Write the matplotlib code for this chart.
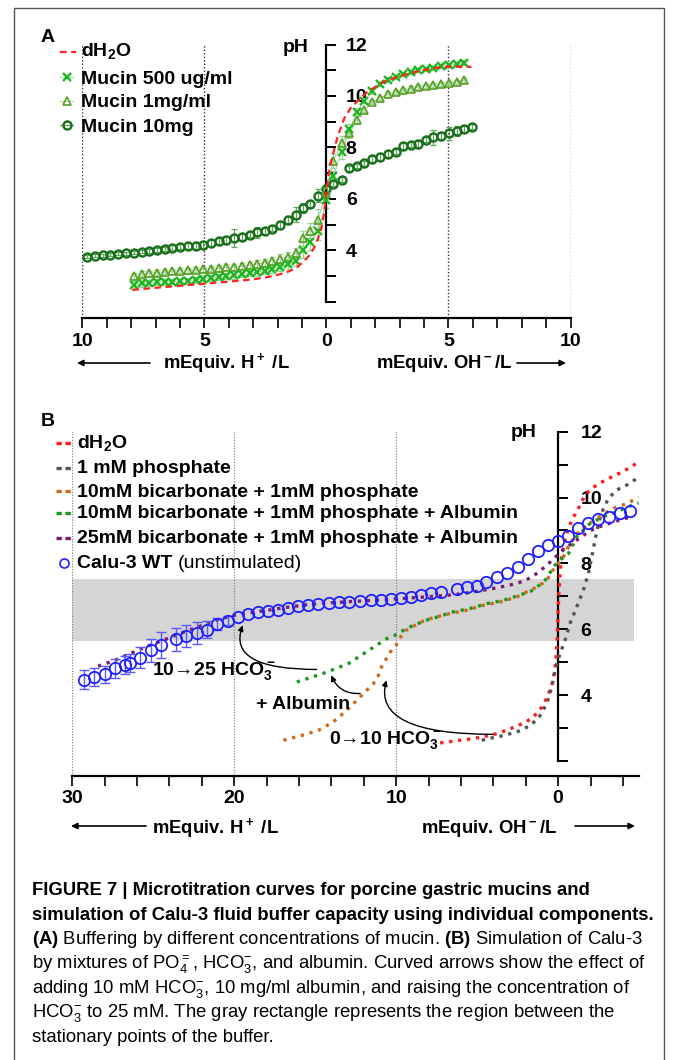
import matplotlib
matplotlib.use("Agg")
import matplotlib.pyplot as plt
from matplotlib import font_manager
from matplotlib.lines import Line2D
from matplotlib.patches import Rectangle, FancyArrowPatch
import numpy as np

# ================= Panel A data (mEquiv; negative = H+ added) =================
x_A = [-9.80, -9.49, -9.17, -8.85, -8.53, -8.20, -7.89, -7.57, -7.26, -6.94,
       -6.63, -6.31, -6.00, -5.67, -5.36, -5.04, -4.72, -4.40, -4.10, -3.80,
       -3.46, -3.15, -2.84, -2.53, -2.22, -1.92, -1.57, -1.26, -0.96, -0.66,
       -0.34, 0.00, 0.28, 0.62, 0.94, 1.24, 1.55, 1.88, 2.19, 2.53,
       2.85, 3.15, 3.45, 3.76, 4.08, 4.38, 4.68, 5.01, 5.34, 5.65, 5.98]
ph_mucin10 = [3.76, 3.79, 3.82, 3.84, 3.87, 3.89, 3.92, 3.95, 3.98, 4.02,
              4.07, 4.11, 4.15, 4.18, 4.19, 4.22, 4.28, 4.35, 4.41, 4.48,
              4.54, 4.62, 4.70, 4.77, 4.85, 5.00, 5.19, 5.39, 5.65, 5.80,
              6.12, 6.38, 6.59, 6.75, 7.20, 7.29, 7.39, 7.56, 7.65, 7.74,
              7.84, 8.04, 8.10, 8.14, 8.30, 8.39, 8.46, 8.56, 8.63, 8.72, 8.80]
err_mucin10 = [0.06, 0.06, 0.06, 0.06, 0.06, 0.06, 0.06, 0.06, 0.06, 0.08,
               0.08, 0.10, 0.10, 0.12, 0.15, 0.15, 0.12, 0.12, 0.15, 0.35,
               0.15, 0.10, 0.20, 0.12, 0.10, 0.15, 0.15, 0.30, 0.20, 0.12,
               0.25, 0.15, 0.10, 0.10, 0.10, 0.08, 0.10, 0.12, 0.12, 0.12,
               0.10, 0.15, 0.10, 0.15, 0.10, 0.30, 0.15, 0.25, 0.20, 0.12, 0.10]
x_mucin = x_A[6:50]
ph_mucin500 = [2.66, 2.73, 2.75, 2.77, 2.78, 2.79, 2.80, 2.83, 2.86, 2.89,
               2.92, 2.96, 3.00, 3.04, 3.08, 3.12, 3.17, 3.22, 3.28, 3.37,
               3.47, 3.60, 4.02, 4.32, 4.74, 5.95,
               6.88, 7.82, 8.70, 9.37, 9.81, 10.18, 10.47, 10.64, 10.74, 10.84,
               10.92, 11.00, 11.05, 11.10, 11.16, 11.21, 11.24, 11.30]
err_mucin500 = [0.15, 0.15, 0.12, 0.12, 0.12, 0.10, 0.10, 0.12, 0.12, 0.15,
                0.12, 0.12, 0.12, 0.15, 0.12, 0.12, 0.15, 0.15, 0.15, 0.15,
                0.20, 0.20, 0.30, 0.30, 0.35, 0.30,
                0.20, 0.25, 0.20, 0.15, 0.10, 0.10, 0.08, 0.08, 0.08, 0.08,
                0.08, 0.08, 0.08, 0.08, 0.08, 0.08, 0.08, 0.08]
ph_mucin1 = [3.01, 3.09, 3.12, 3.14, 3.17, 3.19, 3.22, 3.23, 3.25, 3.27,
             3.30, 3.32, 3.35, 3.37, 3.40, 3.44, 3.48, 3.53, 3.60, 3.66,
             3.76, 3.89, 4.47, 4.77, 5.20, 6.30,
             7.49, 8.18, 8.56, 9.08, 9.47, 9.76, 9.93, 10.06, 10.14, 10.22,
             10.29, 10.35, 10.40, 10.44, 10.48, 10.51, 10.54, 10.61]
err_mucin1 = [0.10, 0.10, 0.10, 0.10, 0.10, 0.10, 0.10, 0.10, 0.10, 0.10,
              0.10, 0.10, 0.12, 0.12, 0.12, 0.12, 0.15, 0.15, 0.15, 0.20,
              0.20, 0.20, 0.30, 0.30, 0.40, 0.30,
              0.30, 0.25, 0.20, 0.15, 0.10, 0.08, 0.08, 0.08, 0.08, 0.08,
              0.08, 0.08, 0.08, 0.08, 0.08, 0.08, 0.08, 0.08]
x_dh2o_A = [-7.95, -7.0, -6.0, -5.0, -4.0, -3.0, -2.5, -2.0, -1.5, -1.2,
            -0.9, -0.66, -0.45, -0.33, -0.2, -0.1, 0.0, 0.1, 0.23, 0.46,
            0.74, 1.0, 1.37, 1.7, 2.39, 3.07, 3.76, 4.44, 5.05, 5.94]
ph_dh2o_A = [2.47, 2.55, 2.63, 2.71, 2.79, 2.88, 2.95, 3.05, 3.20, 3.35,
             3.60, 3.85, 4.20, 4.50, 4.90, 5.40, 6.30, 7.00, 7.60, 8.43,
             9.15, 9.54, 9.89, 10.18, 10.57, 10.79, 10.96, 11.09, 11.14, 11.13]
labels_A = ["dH$_2$O", "Mucin 500 ug/ml", "Mucin 1mg/ml", "Mucin 10mg"]
xticks_A = [-10, -5, 0, 5, 10]
xticklabels_A = ["10", "5", "0", "5", "10"]
gridlines_A = [-10, -5, 5, 10]

# ================= Panel B data =================
x_dh2o_B = [-7.28, -6.77, -6.26, -5.74, -5.23, -4.71, -4.0, -3.5, -3.0, -2.5,
            -2.0, -1.5, -1.0, -0.66, -0.39, -0.2, -0.1, -0.05, 0.0, 0.05,
            0.12, 0.23, 0.54, 0.84, 1.2, 1.67, 2.08, 2.55, 3.0, 3.52,
            3.99, 4.44, 4.92]
ph_dh2o_B = [2.55, 2.58, 2.62, 2.65, 2.68, 2.73, 2.80, 2.88, 2.97, 3.07,
             3.18, 3.35, 3.64, 3.95, 4.30, 4.75, 5.30, 5.85, 6.50, 7.10,
             7.70, 8.30, 8.91, 9.31, 9.62, 10.08, 10.28, 10.43, 10.55, 10.68,
             10.78, 10.92, 11.06]
x_phos = [-4.71, -4.2, -3.58, -2.96, -2.34, -1.73, -1.21, -0.7, -0.39, -0.14,
          0.12, 0.43, 0.74, 1.15, 1.56, 1.87, 2.08, 2.28, 2.49, 2.76,
          3.11, 3.62, 4.24, 4.96]
ph_phos = [2.63, 2.69, 2.75, 2.83, 2.92, 3.08, 3.30, 3.74, 4.25, 4.86,
           5.26, 5.67, 6.18, 6.68, 7.19, 7.70, 8.20, 8.71, 9.22, 9.62,
           9.98, 10.23, 10.38, 10.61]
x_bic10 = [-16.96, -15.8, -14.8, -13.87, -13.4, -12.94, -12.43, -11.91, -11.4, -11.09,
           -10.9, -10.6, -10.28, -10.0, -9.8, -9.38, -8.83, -8.21, -7.49, -6.67,
           -5.64, -4.6, -3.58, -2.55, -1.93, -1.21, -0.7, -0.19, 0.23, 0.74,
           1.36, 1.98, 2.7, 3.42, 4.24, 4.96]
ph_bic10 = [2.63, 2.78, 2.93, 3.19, 3.39, 3.59, 3.84, 4.10, 4.35, 4.60,
            4.86, 5.11, 5.37, 5.52, 5.72, 5.97, 6.12, 6.28, 6.38, 6.48,
            6.58, 6.73, 6.83, 6.98, 7.14, 7.31, 7.49, 7.90, 8.10, 8.61,
            9.01, 9.22, 9.47, 9.67, 9.82, 10.00]
x_bic10_alb = [-16.13, -15.5, -14.5, -13.97, -12.94, -12.0, -11.19, -10.57, -10.06, -9.55,
               -8.93, -8.1, -7.28, -6.46, -5.43, -4.4, -3.38, -2.35, -1.52, -0.7,
               -0.29, 0.12, 0.64, 1.15, 1.98, 2.8, 3.62, 4.24, 4.96]
ph_bic10_alb = [4.40, 4.50, 4.66, 4.76, 4.96, 5.26, 5.52, 5.72, 5.82, 5.97,
                6.12, 6.28, 6.40, 6.53, 6.63, 6.78, 6.88, 7.04, 7.19, 7.54,
                7.90, 8.10, 8.30, 8.81, 9.22, 9.42, 9.57, 9.70, 9.84]
x_bic25_alb = [-28.4, -27.76, -27.14, -26.62, -25.96, -25.39, -24.73, -24.15, -23.54, -22.92,
               -22.3, -21.69, -21.07, -20.45, -19.73, -19.12, -18.5, -17.88, -17.27, -16.54,
               -15.93, -15.31, -14.6, -12.14, -10.37, -8.52, -6.67, -5.94, -4.81, -3.99,
               -3.27, -2.65, -2.04, -1.52, -1.0, -0.49, 0.02, 0.54, 1.15, 1.67,
               2.18, 2.8, 3.42, 4.03, 4.4]
ph_bic25_alb = [4.88, 4.99, 5.10, 5.22, 5.36, 5.48, 5.60, 5.71, 5.83, 5.95,
                6.06, 6.17, 6.28, 6.37, 6.45, 6.50, 6.54, 6.58, 6.63, 6.68,
                6.72, 6.76, 6.79, 6.86, 6.91, 6.97, 7.04, 7.08, 7.17, 7.24,
                7.31, 7.38, 7.48, 7.62, 7.82, 8.04, 8.28, 8.50, 8.71, 8.89,
                9.04, 9.16, 9.26, 9.35, 9.40]
x_calu = [-29.26, -28.62, -27.96, -27.35, -26.73, -26.42, -25.8, -25.14, -24.52, -23.58,
          -22.96, -22.3, -21.69, -21.03, -20.4, -19.73, -19.12, -18.5, -17.88, -17.27,
          -16.65, -16.03, -15.41, -14.8, -14.12, -13.5, -12.88, -12.22, -11.56, -10.94,
          -10.33, -9.71, -9.09, -8.47, -7.86, -7.24, -6.25, -5.64, -5.02, -4.44,
          -3.79, -3.17, -2.49, -1.87, -1.21, -0.6, 0.02, 0.64, 1.25, 1.87,
          2.49, 3.17, 3.83, 4.44]
ph_calu = [4.47, 4.55, 4.63, 4.81, 4.91, 4.98, 5.14, 5.36, 5.52, 5.69,
           5.79, 5.89, 5.99, 6.15, 6.26, 6.36, 6.45, 6.52, 6.56, 6.60,
           6.66, 6.70, 6.74, 6.78, 6.80, 6.82, 6.84, 6.86, 6.88, 6.90,
           6.92, 6.94, 6.98, 7.04, 7.09, 7.12, 7.21, 7.27, 7.32, 7.44,
           7.59, 7.70, 7.90, 8.12, 8.38, 8.56, 8.69, 8.83, 9.09, 9.23,
           9.35, 9.42, 9.52, 9.60]
err_calu = [0.28, 0.28, 0.26, 0.28, 0.28, 0.28, 0.33, 0.35, 0.39, 0.35,
            0.34, 0.33, 0.25, 0.18, 0.13, 0, 0, 0, 0, 0,
            0, 0, 0, 0, 0, 0, 0, 0, 0, 0,
            0, 0, 0, 0, 0, 0, 0, 0, 0, 0,
            0, 0, 0, 0, 0, 0, 0, 0, 0, 0,
            0, 0, 0, 0]
labels_B = ["dH$_2$O", "1 mM phosphate", "10mM bicarbonate + 1mM phosphate",
            "10mM bicarbonate + 1mM phosphate + Albumin",
            "25mM bicarbonate + 1mM phosphate + Albumin"]
label_calu_bold = "Calu-3 WT"
label_calu_rest = "(unstimulated)"
band_x = (-30.0, 4.7)
band_ph = (5.65, 7.52)
xticks_B = [-30, -20, -10, 0]
xticklabels_B = ["30", "20", "10", "0"]
gridlines_B = [-30, -20, -10]
yticks = [2, 4, 6, 8, 10, 12]
yticklabels = ["", "4", "6", "8", "10", "12"]
yminor = [3, 5, 7, 9, 11]

# ================= fonts =================
names = {f.name for f in font_manager.fontManager.ttflist}
MAIN = "Liberation Sans" if "Liberation Sans" in names else "DejaVu Sans"
CAP = "Liberation Sans Narrow" if "Liberation Sans Narrow" in names else MAIN
cap_size = 15.8 if CAP == "Liberation Sans Narrow" else 13.3
plt.rcParams["font.family"] = [MAIN, "DejaVu Sans"]
plt.rcParams["mathtext.fontset"] = "custom"
plt.rcParams["mathtext.default"] = "regular"
plt.rcParams["mathtext.rm"] = MAIN
plt.rcParams["mathtext.bf"] = CAP + ":bold"

W, H = 673, 1060
fig = plt.figure(figsize=(W / 100, H / 100), dpi=100)
FS = 14
FS_AX = 13.3


def P(x, y):
    return (x / W, 1 - y / H)


def add_axes_px(left, top, right, bottom):
    return fig.add_axes([left / W, 1 - bottom / H, (right - left) / W, (bottom - top) / H])


def ftext(x, y, s, **kw):
    kw.setdefault("fontsize", FS)
    kw.setdefault("fontweight", "bold")
    kw.setdefault("va", "baseline")
    kw.setdefault("ha", "left")
    return fig.text(x / W, 1 - y / H, s, **kw)


def fline(xs, y, **kw):
    fig.add_artist(Line2D([x / W for x in xs], [1 - y / H] * len(xs),
                          transform=fig.transFigure, **kw))


def farrow(x0, x1, y):
    fig.add_artist(FancyArrowPatch(P(x0, y), P(x1, y), transform=fig.transFigure,
                                   arrowstyle="-|>", mutation_scale=9, lw=1.2,
                                   color="black", shrinkA=0, shrinkB=0))


def style_axes(ax, xmaj, xlab, xmin, xpad, ypad):
    ax.patch.set_visible(False)
    ax.spines["top"].set_visible(False)
    ax.spines["left"].set_visible(False)
    ax.spines["right"].set_position(("data", 0))
    ax.spines["right"].set_bounds(2, 12)
    ax.spines["right"].set_linewidth(1.6)
    ax.spines["bottom"].set_linewidth(1.6)
    ax.yaxis.tick_right()
    ax.set_yticks(yticks)
    ax.set_yticklabels(yticklabels)
    ax.set_yticks(yminor, minor=True)
    ax.set_xticks(xmaj)
    ax.set_xticklabels(xlab)
    ax.set_xticks(xmin, minor=True)
    ax.tick_params(axis="y", which="both", direction="out", length=7, width=1.4,
                   pad=ypad, labelsize=FS)
    ax.tick_params(axis="x", which="both", direction="out", length=7, width=1.2,
                   pad=xpad, labelsize=FS)
    for t in ax.get_xticklabels() + ax.get_yticklabels():
        t.set_fontweight("bold")


# outer frame
fig.add_artist(Rectangle((14 / W, -0.02), (664 - 14) / W, 1 - 8 / H + 0.02,
                         transform=fig.transFigure, fill=False, lw=1.0, ec="#555555"))

# ================= Panel A =================
axA = add_axes_px(82.3, 44.5, 570.5, 317.5)
axA.set_xlim(-10, 10)
axA.set_ylim(1.397, 12)
style_axes(axA, xticks_A, xticklabels_A,
           [v for v in range(-10, 11) if v % 5 != 0], xpad=4.5, ypad=7)
axA.vlines(gridlines_A, 1.397, 12, colors="#333333", linestyles=(0, (1, 1.5)),
           lw=1.0, zorder=1)

c500, c1, c10, cA_red = "#22b422", "#5a9e24", "#1b6e1b", "#ff2424"
axA.errorbar(x_A, ph_mucin10, yerr=err_mucin10, fmt="none", ecolor="#5aa85a",
             elinewidth=0.9, capsize=2.5, capthick=0.9, zorder=2)
axA.plot(x_A, ph_mucin10, "o", ms=5.8, mfc="none", mec=c10, mew=1.7, zorder=3)
axA.errorbar(x_mucin, ph_mucin1, yerr=err_mucin1, fmt="none", ecolor="#9ad39a",
             elinewidth=0.9, capsize=2.5, capthick=0.9, zorder=2)
axA.plot(x_mucin, ph_mucin1, "-", color="#a6dba6", lw=0.8, zorder=2)
axA.plot(x_mucin, ph_mucin1, "^", ms=6, mfc="none", mec=c1, mew=1.2, zorder=3)
axA.errorbar(x_mucin, ph_mucin500, yerr=err_mucin500, fmt="none", ecolor="#8fd48f",
             elinewidth=0.9, capsize=2.5, capthick=0.9, zorder=2)
axA.plot(x_mucin, ph_mucin500, "-", color="#a6dba6", lw=0.8, zorder=2)
axA.plot(x_mucin, ph_mucin500, "x", ms=6, mec=c500, mew=1.7, zorder=3)
axA.plot(x_dh2o_A, ph_dh2o_A, color=cA_red, lw=1.6, ls=(0, (3, 2)), zorder=4)

ftext(41, 41.7, "A")
ftext(283, 51.7, "pH")
# legend A
fline([60, 76], 52, color=cA_red, lw=1.6, ls=(0, (3, 2)))
ftext(81, 56.4, labels_A[0])
fline([60, 66.5, 73], 77, color="#a6dba6", lw=0.8)
fline([66.5], 77, color=c500, marker="x", ms=6, mew=1.7, ls="none")
ftext(81, 83.7, labels_A[1])
fline([60, 66.5, 73], 100.5, color="#a6dba6", lw=0.8)
fline([66.5], 100.5, color=c1, marker="^", ms=6, mfc="none", mew=1.2, ls="none")
ftext(81, 107.2, labels_A[2])
fline([60, 66.5, 73], 125, color="#5aa85a", lw=0.8)
fline([66.5], 125, color=c10, marker="o", ms=5.8, mfc="none", mew=1.7, ls="none")
ftext(81, 131.7, labels_A[3])
# axis titles A
ftext(163, 368, "mEquiv. H$^+$ /L", fontsize=FS_AX)
ftext(375.5, 368, "mEquiv. OH$^-$/L", fontsize=FS_AX)
farrow(150, 77, 363)
farrow(517, 566, 363)

# ================= Panel B =================
axB = add_axes_px(72.1, 431.7, 639.1, 776)
axB.set_xlim(-30, 5)
axB.set_ylim(1.545, 12)
style_axes(axB, xticks_B, xticklabels_B,
           [v for v in range(-30, 5, 2) if v % 10 != 0], xpad=3, ypad=9)
axB.add_patch(Rectangle((band_x[0], band_ph[0]), band_x[1] - band_x[0],
                        band_ph[1] - band_ph[0], fc="#d5d5d5", ec="none", zorder=0.5))
axB.vlines(gridlines_B, 1.545, 12.05, colors="#8a8a8a", linestyles=(0, (1, 1.2)),
           lw=0.9, zorder=1)

colors_B = ["#ff1c1c", "#555555", "#cf6a1d", "#1d991d", "#7b1c7b"]
series_B = [(x_dh2o_B, ph_dh2o_B), (x_phos, ph_phos), (x_bic10, ph_bic10),
            (x_bic10_alb, ph_bic10_alb), (x_bic25_alb, ph_bic25_alb)]
DOT = (0, (1, 1.7))
for (xs, ys), c in zip(series_B, colors_B):
    axB.plot(xs, ys, color=c, lw=2.4, ls=DOT, dash_capstyle="butt", zorder=3)

cblue = "#2020ff"
x_e = [x for x, e in zip(x_calu, err_calu) if e > 0]
y_e = [y for y, e in zip(ph_calu, err_calu) if e > 0]
e_e = [e for e in err_calu if e > 0]
axB.errorbar(x_e, y_e, yerr=e_e, fmt="none", ecolor="#5a5aff", elinewidth=1.0,
             capsize=3.5, capthick=1.0, zorder=3.5)
axB.plot(x_calu, ph_calu, "o", ms=8.2, mfc="none", mec=cblue, mew=1.3, zorder=4)

# annotations
axB.text(-21.25, 4.6, "10\u219225 HCO$_3^-$", ha="center", va="baseline",
         fontsize=FS, fontweight="bold")
axB.text(-15.77, 3.59, "+ Albumin", ha="center", va="baseline",
         fontsize=FS, fontweight="bold")
axB.text(-10.68, 2.53, "0\u219210 HCO$_3^-$", ha="center", va="baseline",
         fontsize=FS, fontweight="bold")
ap = dict(arrowstyle="-|>", color="black", lw=1.0, mutation_scale=8,
          shrinkA=0, shrinkB=0)
axB.annotate("", xy=(-19.47, 6.12), xytext=(-14.9, 4.78),
             arrowprops=dict(ap, connectionstyle="angle3,angleA=0,angleB=70"))
axB.annotate("", xy=(-14.0, 4.6), xytext=(-12.22, 4.05),
             arrowprops=dict(ap, connectionstyle="arc3,rad=-0.35"))
axB.annotate("", xy=(-10.6, 4.45), xytext=(-4.0, 2.81),
             arrowprops=dict(ap, connectionstyle="angle3,angleA=0,angleB=75"))

ftext(40.7, 426, "B")
ftext(510.5, 436.7, "pH")
# legend B
leg_base = [448.3, 473.3, 496.7, 518.3, 543.3]
for lab, c, yb in zip(labels_B, colors_B, leg_base):
    fline([55.7, 73.3], yb - 5.5, color=c, lw=2.4, ls=(0, (1.6, 1.1)))
    ftext(77.3, yb, lab)
fline([63.5], 563.3, color=cblue, marker="o", ms=6.5, mfc="none", mew=1.2, ls="none")
ftext(77.3, 568.3, label_calu_bold)
ftext(178, 568.3, label_calu_rest, fontweight="normal")
# axis titles B
ftext(152.4, 832.6, "mEquiv. H$^+$ /L", fontsize=FS_AX)
ftext(420.6, 832.6, "mEquiv. OH$^-$/L", fontsize=FS_AX)
farrow(146, 71, 826)
farrow(575, 635, 826)

# ================= caption =================
cap_lines = [
    ("FIGURE 7 | Microtitration curves for porcine gastric mucins and", "bold"),
    ("simulation of Calu-3 fluid buffer capacity using individual components.", "bold"),
    (r"$\mathbf{(A)}$ Buffering by different concentrations of mucin. $\mathbf{(B)}$ Simulation of Calu-3", "normal"),
    (r"by mixtures of PO$_4^{=}$, HCO$_3^{-}$, and albumin. Curved arrows show the effect of", "normal"),
    (r"adding 10 mM HCO$_3^{-}$, 10 mg/ml albumin, and raising the concentration of", "normal"),
    (r"HCO$_3^{-}$ to 25 mM. The gray rectangle represents the region between the", "normal"),
    ("stationary points of the buffer.", "normal"),
]
cap_base = [895, 919.5, 944, 968.5, 993, 1017.5, 1042]
for (s, w), yb in zip(cap_lines, cap_base):
    ftext(32, yb, s, fontweight=w, fontsize=cap_size, family=[CAP, MAIN, "DejaVu Sans"])

fig.savefig("out.png", dpi=100)
